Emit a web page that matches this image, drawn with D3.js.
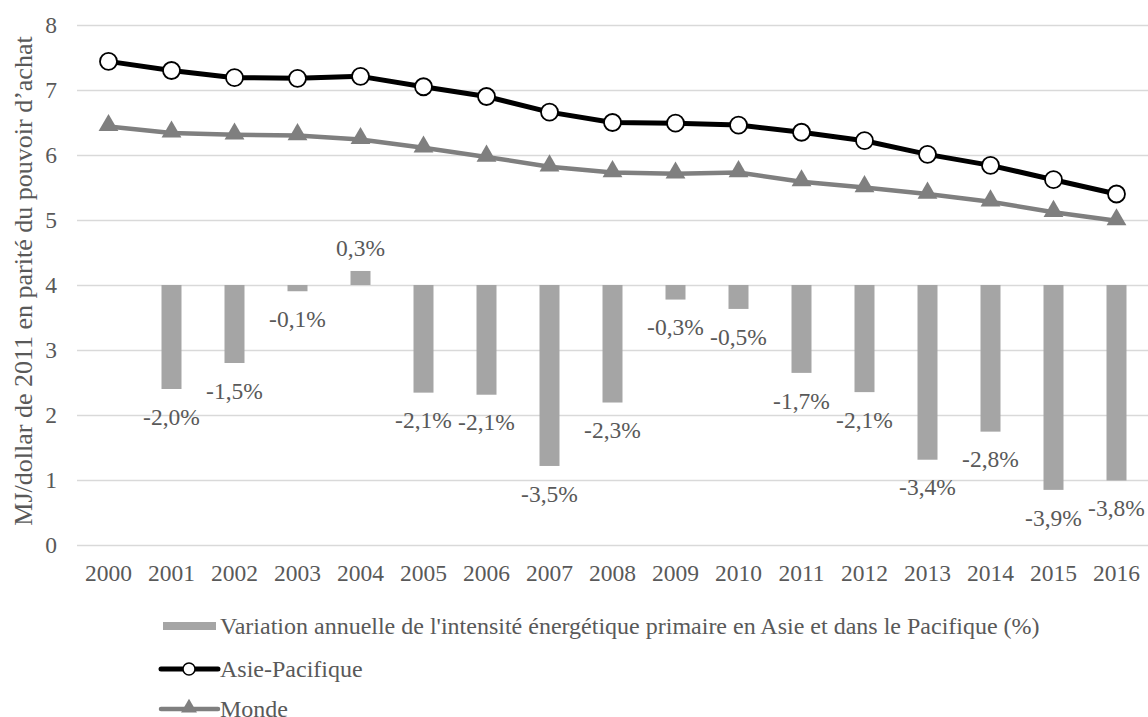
<!DOCTYPE html>
<html>
<head>
<meta charset="utf-8">
<script src="https://cdn.jsdelivr.net/npm/d3@7"></script>
<style>
  html, body { margin: 0; padding: 0; background: #fff; }
  svg { display: block; }
  svg text { font-family: "Liberation Serif", Tinos, "Times New Roman", Times, serif; fill: #595959; }
</style>
</head>
<body>
<svg id="chart" width="1148" height="717"></svg>
<script>
// ---- Data ----
const years = ["2000","2001","2002","2003","2004","2005","2006","2007","2008","2009","2010","2011","2012","2013","2014","2015","2016"];
const asiePacifique = [7.44, 7.30, 7.19, 7.18, 7.21, 7.05, 6.90, 6.66, 6.50, 6.49, 6.46, 6.35, 6.22, 6.01, 5.84, 5.62, 5.40];
const monde = [6.44, 6.34, 6.31, 6.30, 6.24, 6.11, 5.97, 5.82, 5.73, 5.71, 5.73, 5.59, 5.50, 5.40, 5.28, 5.12, 4.99];
// annual variation (%) of primary energy intensity in Asia-Pacific (no value for 2000)
const variation = [null, -2.0, -1.5, -0.12, 0.27, -2.07, -2.11, -3.48, -2.26, -0.28, -0.46, -1.69, -2.06, -3.36, -2.82, -3.94, -3.76];
const yTicks = [0, 1, 2, 3, 4, 5, 6, 7, 8];
const yTitle = "MJ/dollar de 2011 en parité du pouvoir d\u2019achat";
const legendLabels = [
  "Variation annuelle de l'intensité énergétique primaire en Asie et dans le Pacifique (%)",
  "Asie-Pacifique",
  "Monde"
];

// ---- Layout ----
const W = 1148, H = 717;
const plot = { left: 77, right: 1148, top: 25, bottom: 545 };
const svg = d3.select("#chart");
const FONT = '"Liberation Serif", Tinos, "Times New Roman", Times, serif';

const x = d3.scaleBand().domain(years).range([plot.left, plot.right]).padding(0);
const cx = d => x(d) + x.bandwidth() / 2;
const y = d3.scaleLinear().domain([0, 8]).range([plot.bottom, plot.top]);
// secondary (hidden) axis for the percentage bars
const yBar = d3.scaleLinear().domain([-5, 5]).range([plot.bottom, plot.top]);

const fontSize = 23.5;

// gridlines
svg.append("g")
  .attr("transform", `translate(${plot.left},0)`)
  .call(d3.axisLeft(y).tickValues(yTicks).tickSize(-(plot.right - plot.left)).tickFormat(""))
  .call(g => g.select(".domain").remove())
  .call(g => g.selectAll("line").attr("stroke", "#d9d9d9").attr("stroke-width", 1.3));

// y tick labels
svg.append("g")
  .attr("transform", `translate(${plot.left},0)`)
  .call(d3.axisLeft(y).tickValues(yTicks).tickSize(0).tickPadding(20).tickFormat(d3.format("d")))
  .attr("font-family", FONT)
  .call(g => g.select(".domain").remove())
  .call(g => g.selectAll("text").attr("font-size", fontSize).attr("fill", "#595959"));

// x tick labels
svg.append("g")
  .attr("transform", `translate(0,${plot.bottom})`)
  .call(d3.axisBottom(x).tickSize(0).tickPadding(19))
  .attr("font-family", FONT)
  .call(g => g.select(".domain").remove())
  .call(g => g.selectAll("text").attr("font-size", fontSize).attr("fill", "#595959"));

// y title
svg.append("text")
  .attr("transform", `translate(32,281) rotate(-90)`)
  .attr("text-anchor", "middle")
  .attr("font-size", 26)
  .text(yTitle);

// bars
const barW = 20;
const barData = years.map((yr, i) => ({ yr, v: variation[i] })).filter(d => d.v !== null);
svg.append("g").selectAll("rect").data(barData).join("rect")
  .attr("x", d => cx(d.yr) - barW / 2)
  .attr("width", barW)
  .attr("y", d => Math.min(yBar(d.v), yBar(0)))
  .attr("height", d => Math.abs(yBar(d.v) - yBar(0)))
  .attr("fill", "#a5a5a5");

// bar labels
const fmt = v => d3.format(".1f")(v).replace(".", ",").replace("\u2212", "-") + "%";
svg.append("g").selectAll("text").data(barData).join("text")
  .attr("x", d => cx(d.yr))
  .attr("y", d => d.v < 0 ? yBar(d.v) + 28 : yBar(d.v) - 23)
  .attr("dy", "0.33em")
  .attr("text-anchor", "middle")
  .attr("font-size", fontSize)
  .text(d => fmt(d.v));

// lines
const lineGen = d3.line().x((d, i) => cx(years[i])).y(d => y(d));
svg.append("path").datum(monde)
  .attr("d", lineGen).attr("fill", "none").attr("stroke", "#7f7f7f").attr("stroke-width", 4.5)
  .attr("stroke-linejoin", "round");
const tri = d3.symbol().type(d3.symbolTriangle).size(170);
svg.append("g").selectAll("path").data(monde).join("path")
  .attr("d", tri)
  .attr("transform", (d, i) => `translate(${cx(years[i])},${y(d) - 1})`)
  .attr("fill", "#7f7f7f");

svg.append("path").datum(asiePacifique)
  .attr("d", lineGen).attr("fill", "none").attr("stroke", "#000").attr("stroke-width", 5)
  .attr("stroke-linejoin", "round");
svg.append("g").selectAll("circle").data(asiePacifique).join("circle")
  .attr("cx", (d, i) => cx(years[i]))
  .attr("cy", d => y(d))
  .attr("r", 8.5)
  .attr("fill", "#fff")
  .attr("stroke", "#000")
  .attr("stroke-width", 1.8);

// legend
const lg = svg.append("g");
const lx = 163, ly = [626, 669, 709];
lg.append("rect").attr("x", lx).attr("y", ly[0] - 4).attr("width", 53).attr("height", 8).attr("fill", "#a5a5a5");
lg.append("line").attr("x1", lx - 2).attr("x2", lx + 55).attr("y1", ly[1]).attr("y2", ly[1])
  .attr("stroke", "#000").attr("stroke-width", 5).attr("stroke-linecap", "round");
lg.append("circle").attr("cx", lx + 26).attr("cy", ly[1]).attr("r", 6)
  .attr("fill", "#fff").attr("stroke", "#000").attr("stroke-width", 1.5);
lg.append("line").attr("x1", lx - 2).attr("x2", lx + 55).attr("y1", ly[2]).attr("y2", ly[2])
  .attr("stroke", "#7f7f7f").attr("stroke-width", 4.5).attr("stroke-linecap", "round");
lg.append("path").attr("d", d3.symbol().type(d3.symbolTriangle).size(110))
  .attr("transform", `translate(${lx + 26},${ly[2] - 1})`).attr("fill", "#7f7f7f");
legendLabels.forEach((t, i) => {
  lg.append("text").attr("x", lx + 57).attr("y", ly[i]).attr("dy", "0.33em")
    .attr("font-size", 24).text(t);
});
</script>
</body>
</html>
